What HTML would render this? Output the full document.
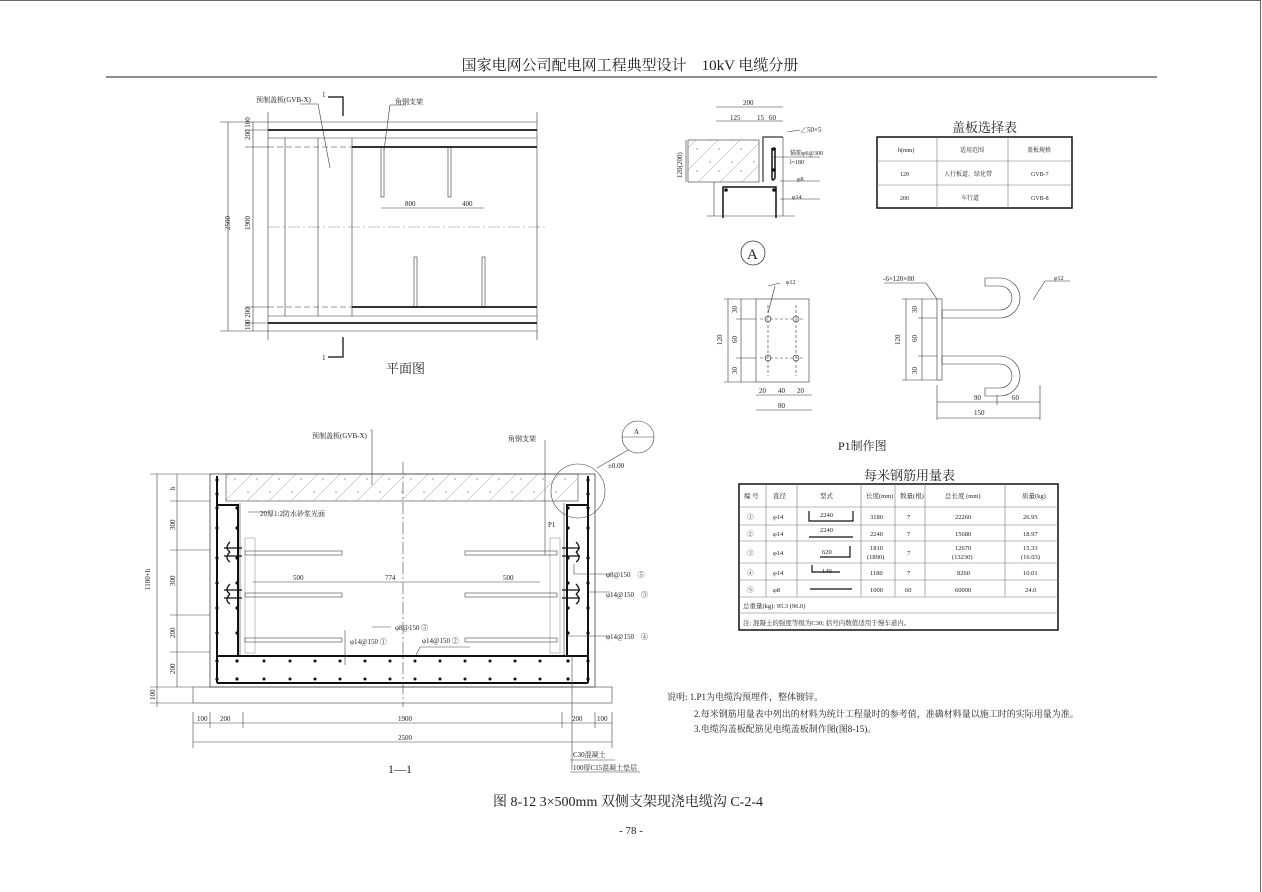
<!DOCTYPE html>
<html><head><meta charset="utf-8"><style>
html,body{margin:0;padding:0;background:#fff}
svg{display:block}
text{font-family:"Liberation Serif","Noto Serif CJK SC","Noto Sans CJK SC",serif;fill:#222}
.s{font-size:7px}
.m{font-size:8px}
</style></head><body>
<svg width="1262" height="892" viewBox="0 0 1262 892" xmlns="http://www.w3.org/2000/svg">
<defs>
<pattern id="h" width="22" height="22" patternUnits="userSpaceOnUse">
<line x1="0" y1="22" x2="22" y2="0" stroke="#999" stroke-width="0.5"/>
<circle cx="6" cy="8" r="0.7" fill="#888"/><circle cx="15" cy="17" r="0.7" fill="#888"/>
</pattern>
</defs>
<line x1="0" y1="0.5" x2="1261" y2="0.5" stroke="#666"/>
<line x1="1260.5" y1="0" x2="1260.5" y2="892" stroke="#666"/>
<text x="630" y="70" font-size="15" text-anchor="middle">国家电网公司配电网工程典型设计　10kV 电缆分册</text>
<line x1="106" y1="77" x2="1157" y2="77" stroke="#222" stroke-width="1"/>

<!-- PLAN -->
<g stroke="#333" fill="none" stroke-width="0.6">
<line x1="268" y1="122" x2="537" y2="122"/>
<line x1="268" y1="130" x2="537" y2="130" stroke-width="2"/>
<line x1="268" y1="138" x2="537" y2="138"/>
<line x1="268" y1="147" x2="352" y2="147" stroke-dasharray="6 3"/>
<line x1="352" y1="147" x2="537" y2="147" stroke-width="2"/>
<line x1="268" y1="227" x2="545" y2="227" stroke-dasharray="12 3 2 3" stroke="#888"/>
<line x1="268" y1="307" x2="352" y2="307" stroke-dasharray="6 3"/>
<line x1="352" y1="307" x2="537" y2="307" stroke-width="2"/>
<line x1="268" y1="316" x2="537" y2="316"/>
<line x1="268" y1="323" x2="537" y2="323" stroke-width="2"/>
<line x1="268" y1="331" x2="537" y2="331"/>
<line x1="268" y1="112" x2="268" y2="340"/>
<line x1="285" y1="138" x2="285" y2="316"/>
<line x1="318" y1="138" x2="318" y2="316"/>
<line x1="352" y1="138" x2="352" y2="316"/>
<line x1="537" y1="112" x2="537" y2="340"/>
<rect x="381" y="147" width="3" height="50"/><rect x="448" y="147" width="3" height="50"/>
<rect x="414" y="257" width="3" height="50"/><rect x="482" y="257" width="3" height="50"/>
<line x1="381" y1="208" x2="484" y2="208"/>
<line x1="228" y1="122" x2="228" y2="331"/>
<line x1="253" y1="122" x2="253" y2="331"/>
<line x1="220" y1="122" x2="268" y2="122"/><line x1="220" y1="331" x2="268" y2="331"/>
<line x1="245" y1="130" x2="268" y2="130"/><line x1="245" y1="147" x2="268" y2="147"/>
<line x1="245" y1="307" x2="268" y2="307"/><line x1="245" y1="323" x2="268" y2="323"/>
<polyline points="328,97 343,97 343,116" stroke-width="1.5"/>
<polyline points="328,357 343,357 343,337" stroke-width="1.5"/>
<polyline points="300,104 318,104 330,168"/>
<polyline points="406,105 390,105 384,150"/>
</g>
<text x="256" y="102" class="s">预制盖板(GVB-X)</text>
<text x="395" y="104" class="s">角钢支架</text>
<text x="322" y="97" class="s">1</text><text x="322" y="360" class="s">1</text>
<text x="405" y="206" class="s">800</text><text x="462" y="206" class="s">400</text>
<text x="230" y="230" class="s" transform="rotate(-90 230 230)">2500</text>
<text x="250" y="230" class="s" transform="rotate(-90 250 230)">1900</text>
<text x="250" y="140" class="s" transform="rotate(-90 250 140)">200 100</text>
<text x="250" y="330" class="s" transform="rotate(-90 250 330)">100 200</text>
<text x="386" y="373" font-size="13">平面图</text>

<!-- SECTION 1-1 -->
<rect x="193" y="687" width="419" height="16" fill="none" stroke="#444" stroke-width="0.6"/>
<rect x="210" y="474" width="385" height="213" fill="none" stroke="#444" stroke-width="0.8"/>
<rect x="226" y="474" width="352" height="27" fill="url(#h)" stroke="#444" stroke-width="0.6"/>
<g stroke="#111" fill="none" stroke-width="2">
<line x1="217" y1="476" x2="217" y2="683"/>
<polyline points="238,655 238,505 217,505"/>
<line x1="588" y1="476" x2="588" y2="683"/>
<polyline points="567,655 567,505 588,505"/>
<line x1="217" y1="683" x2="588" y2="683"/>
<line x1="217" y1="656" x2="588" y2="656"/>
</g>
<g stroke="#444" fill="none" stroke-width="0.6">
<line x1="240" y1="503" x2="240" y2="655"/><line x1="564" y1="503" x2="564" y2="655"/>
<line x1="403" y1="462" x2="403" y2="707" stroke-dasharray="12 3 2 3"/>
<rect x="245" y="538" width="10" height="115" stroke="#999"/>
<rect x="550" y="538" width="10" height="115" stroke="#999"/>
<rect x="245" y="551" width="97" height="4"/><rect x="245" y="593" width="97" height="4"/><rect x="245" y="638" width="97" height="4"/>
<rect x="465" y="551" width="92" height="4"/><rect x="465" y="593" width="92" height="4"/><rect x="465" y="638" width="92" height="4"/>
<path d="M224 548 h18 M224 556 h18 M230 542 q-6 6 0 10 M230 552 q-6 6 0 10 M224 590 h18 M224 598 h18 M230 584 q-6 6 0 10 M230 594 q-6 6 0 10" stroke="#111" stroke-width="1.3"/>
<path d="M562 548 h18 M562 556 h18 M576 542 q6 6 0 10 M576 552 q6 6 0 10 M562 590 h18 M562 598 h18 M576 584 q6 6 0 10 M576 594 q6 6 0 10" stroke="#111" stroke-width="1.3"/>
<line x1="253" y1="582" x2="540" y2="582"/>
<line x1="157" y1="474" x2="157" y2="707"/><line x1="177" y1="474" x2="177" y2="687"/>
<line x1="150" y1="474" x2="210" y2="474"/><line x1="170" y1="501" x2="210" y2="501"/>
<line x1="170" y1="550" x2="210" y2="550"/><line x1="170" y1="615" x2="210" y2="615"/>
<line x1="170" y1="652" x2="210" y2="652"/><line x1="150" y1="687" x2="193" y2="687"/><line x1="150" y1="703" x2="193" y2="703"/>
<line x1="193" y1="723" x2="612" y2="723"/><line x1="193" y1="742" x2="612" y2="742"/>
<line x1="193" y1="712" x2="193" y2="748"/><line x1="210" y1="712" x2="210" y2="728"/><line x1="243" y1="712" x2="243" y2="728"/>
<line x1="562" y1="712" x2="562" y2="728"/><line x1="595" y1="712" x2="595" y2="728"/><line x1="612" y1="712" x2="612" y2="748"/>
<circle cx="578" cy="491" r="27"/>
<circle cx="638" cy="437" r="16"/><line x1="622" y1="437" x2="654" y2="437"/>
<line x1="597" y1="468" x2="628" y2="450"/>
<polyline points="370,430 372,430 372,485"/>
<polyline points="545,440 545,440 545,555"/>
<polyline points="248,512 270,512"/>
<polyline points="574,564 574,574 610,574"/><polyline points="588,592 610,592"/><polyline points="566,636 610,636"/>
<polyline points="345,630 345,665"/><polyline points="372,627 391,627"/>
<polyline points="470,647 420,647 416,655"/>
<line x1="572" y1="655" x2="572" y2="770"/>
<line x1="570" y1="760" x2="615" y2="760" /><line x1="570" y1="772" x2="640" y2="772"/>
</g>
<g fill="#111">
<circle cx="217" cy="480" r="1.6"/><circle cx="217" cy="494" r="1.6"/><circle cx="588" cy="480" r="1.6"/><circle cx="588" cy="494" r="1.6"/>
<circle cx="217" cy="508" r="1.6"/><circle cx="237" cy="508" r="1.6"/><circle cx="588" cy="508" r="1.6"/><circle cx="568" cy="508" r="1.6"/>
<circle cx="217" cy="528" r="1.6"/><circle cx="237" cy="528" r="1.6"/><circle cx="588" cy="528" r="1.6"/><circle cx="568" cy="528" r="1.6"/>
<circle cx="217" cy="558" r="1.6"/><circle cx="237" cy="558" r="1.6"/><circle cx="588" cy="558" r="1.6"/><circle cx="568" cy="558" r="1.6"/>
<circle cx="217" cy="583" r="1.6"/><circle cx="237" cy="583" r="1.6"/><circle cx="588" cy="583" r="1.6"/><circle cx="568" cy="583" r="1.6"/>
<circle cx="217" cy="608" r="1.6"/><circle cx="237" cy="608" r="1.6"/><circle cx="588" cy="608" r="1.6"/><circle cx="568" cy="608" r="1.6"/>
<circle cx="217" cy="633" r="1.6"/><circle cx="237" cy="633" r="1.6"/><circle cx="588" cy="633" r="1.6"/><circle cx="568" cy="633" r="1.6"/>
<circle cx="217" cy="661" r="1.6"/><circle cx="237" cy="661" r="1.6"/><circle cx="588" cy="661" r="1.6"/><circle cx="568" cy="661" r="1.6"/>
<circle cx="217" cy="679" r="1.6"/><circle cx="237" cy="679" r="1.6"/><circle cx="588" cy="679" r="1.6"/><circle cx="568" cy="679" r="1.6"/>
<circle cx="264" cy="661" r="1.5"/><circle cx="290" cy="661" r="1.5"/><circle cx="315" cy="661" r="1.5"/><circle cx="340" cy="661" r="1.5"/><circle cx="365" cy="661" r="1.5"/><circle cx="390" cy="661" r="1.5"/><circle cx="415" cy="661" r="1.5"/><circle cx="440" cy="661" r="1.5"/><circle cx="465" cy="661" r="1.5"/><circle cx="490" cy="661" r="1.5"/><circle cx="515" cy="661" r="1.5"/><circle cx="540" cy="661" r="1.5"/>
<circle cx="264" cy="679" r="1.5"/><circle cx="290" cy="679" r="1.5"/><circle cx="315" cy="679" r="1.5"/><circle cx="340" cy="679" r="1.5"/><circle cx="365" cy="679" r="1.5"/><circle cx="390" cy="679" r="1.5"/><circle cx="415" cy="679" r="1.5"/><circle cx="440" cy="679" r="1.5"/><circle cx="465" cy="679" r="1.5"/><circle cx="490" cy="679" r="1.5"/><circle cx="515" cy="679" r="1.5"/><circle cx="540" cy="679" r="1.5"/>
</g>
<text x="312" y="438" class="s">预制盖板(GVB-X)</text>
<text x="508" y="441" class="s">角钢支架</text>
<text x="634" y="434" class="s">A</text>
<text x="608" y="468" class="s">±0.00</text>
<text x="260" y="516" class="s">20厚1:2防水砂浆光面</text>
<text x="548" y="527" class="s">P1</text>
<text x="293" y="580" class="s">500</text><text x="385" y="580" class="s">774</text><text x="503" y="580" class="s">500</text>
<text x="395" y="630" class="s">φ8@150 ⑤</text>
<text x="350" y="644" class="s">φ14@150 ①</text>
<text x="422" y="643" class="s">φ14@150 ②</text>
<text x="606" y="577" class="s">φ8@150　⑤</text>
<text x="606" y="597" class="s">φ14@150　③</text>
<text x="606" y="639" class="s">φ14@150　④</text>
<text x="197" y="721" class="s">100</text><text x="220" y="721" class="s">200</text><text x="398" y="721" class="s">1900</text>
<text x="572" y="721" class="s">200</text><text x="597" y="721" class="s">100</text>
<text x="398" y="740" class="s">2500</text>
<text x="573" y="757" class="s">C30混凝土</text>
<text x="573" y="770" class="s">100厚C15混凝土垫层</text>
<text x="388" y="773" font-size="12">1—1</text>
<text x="150" y="590" class="s" transform="rotate(-90 150 590)">1100+h</text>
<text x="175" y="490" class="s" transform="rotate(-90 175 490)">h</text>
<text x="175" y="530" class="s" transform="rotate(-90 175 530)">300</text>
<text x="175" y="586" class="s" transform="rotate(-90 175 586)">300</text>
<text x="175" y="638" class="s" transform="rotate(-90 175 638)">200</text>
<text x="175" y="674" class="s" transform="rotate(-90 175 674)">200</text>
<text x="155" y="700" class="s" transform="rotate(-90 155 700)">100</text>

<!-- DETAIL A -->
<g stroke="#333" fill="none" stroke-width="0.6">
<line x1="716" y1="107" x2="783" y2="107"/><line x1="716" y1="121" x2="783" y2="121"/>
<rect x="688" y="140" width="71" height="42" fill="url(#h)"/>
<polyline points="763,182 763,137 783,137" stroke-width="1.2"/>
<path d="M772 148 v30 q0 4 3 0 v-30" stroke="#111" stroke-width="1.5"/>
<polyline points="723,218 723,187 776,187 776,218" stroke="#111" stroke-width="1.5"/>
<line x1="707" y1="216" x2="795" y2="216"/>
<line x1="714" y1="182" x2="714" y2="216"/><line x1="783" y1="137" x2="783" y2="216"/>
<line x1="686" y1="140" x2="686" y2="182"/>
<line x1="773" y1="157" x2="820" y2="157"/><line x1="780" y1="181" x2="820" y2="181"/>
<line x1="780" y1="199" x2="820" y2="199"/>
<line x1="787" y1="132" x2="800" y2="130"/>
<circle cx="753" cy="253" r="12" stroke-width="0.8"/>
</g>
<g fill="#111"><circle cx="774" cy="149" r="1.8"/><circle cx="774" cy="170" r="1.8"/><circle cx="726" cy="190" r="1.8"/><circle cx="774" cy="190" r="1.8"/></g>
<text x="743" y="105" class="s">200</text><text x="730" y="120" class="s">125</text><text x="757" y="120" class="s">15</text><text x="769" y="120" class="s">60</text>
<text x="800" y="132" class="s">∠50×5</text>
<text x="790" y="155" font-size="6">锚筋φ6@300</text><text x="790" y="164" font-size="6">l=180</text>
<text x="797" y="181" font-size="6">φ8</text><text x="792" y="199" font-size="6">φ14</text>
<text x="682" y="178" class="s" transform="rotate(-90 682 178)">120(200)</text>
<text x="747" y="259" font-size="15">A</text>

<!-- cover table -->
<text x="952" y="132" font-size="13">盖板选择表</text>
<rect x="877" y="137" width="195" height="71" fill="none" stroke="#111" stroke-width="1.5"/>
<g stroke="#777" stroke-width="0.6"><line x1="877" y1="161" x2="1072" y2="161"/><line x1="877" y1="185" x2="1072" y2="185"/>
<line x1="937" y1="137" x2="937" y2="208"/><line x1="1008" y1="137" x2="1008" y2="208"/></g>
<text x="898" y="152" font-size="6">h(mm)</text><text x="960" y="152" font-size="6">适用范围</text><text x="1027" y="152" font-size="6">盖板规格</text>
<text x="900" y="176" font-size="6">120</text><text x="944" y="176" font-size="6">人行板道、绿化带</text><text x="1031" y="176" font-size="6">GVB-7</text>
<text x="900" y="200" font-size="6">200</text><text x="961" y="200" font-size="6">车行道</text><text x="1031" y="200" font-size="6">GVB-8</text>

<!-- P1 -->
<g stroke="#333" fill="none" stroke-width="0.6">
<rect x="756" y="299" width="53" height="83"/>
<circle cx="768" cy="319" r="3"/><circle cx="796" cy="319" r="3"/><circle cx="768" cy="358" r="3"/><circle cx="796" cy="358" r="3"/>
<line x1="760" y1="319" x2="804" y2="319" stroke-dasharray="3 2"/><line x1="760" y1="358" x2="804" y2="358" stroke-dasharray="3 2"/>
<line x1="768" y1="305" x2="768" y2="376" stroke-dasharray="3 2"/><line x1="796" y1="305" x2="796" y2="376" stroke-dasharray="3 2"/>
<line x1="728" y1="299" x2="728" y2="382"/><line x1="741" y1="299" x2="741" y2="382"/>
<line x1="724" y1="299" x2="756" y2="299"/><line x1="736" y1="319" x2="756" y2="319"/><line x1="736" y1="358" x2="756" y2="358"/><line x1="724" y1="382" x2="756" y2="382"/>
<line x1="756" y1="395" x2="812" y2="395"/><line x1="756" y1="410" x2="812" y2="410"/>
<line x1="768" y1="286" x2="780" y2="283"/><line x1="768" y1="313" x2="775" y2="286"/>
<rect x="937" y="299" width="5" height="81"/>
<path d="M942 318 H1000 A20 20 0 0 0 1000 278 H985 V286 H1000 A12 12 0 0 1 1000 310 H942 Z"/>
<path d="M942 356 H1000 A20 20 0 0 1 1000 396 H985 V388 H1000 A12 12 0 0 0 1000 364 H942 Z"/>
<line x1="906" y1="299" x2="906" y2="380"/><line x1="922" y1="299" x2="922" y2="380"/>
<line x1="902" y1="299" x2="937" y2="299"/><line x1="918" y1="318" x2="937" y2="318"/><line x1="918" y1="356" x2="937" y2="356"/><line x1="902" y1="380" x2="937" y2="380"/>
<line x1="937" y1="402" x2="1040" y2="402"/><line x1="937" y1="418" x2="1040" y2="418"/>
<line x1="937" y1="385" x2="937" y2="420"/><line x1="1040" y1="385" x2="1040" y2="420"/><line x1="997" y1="395" x2="997" y2="405"/>
<line x1="884" y1="283" x2="926" y2="283"/><line x1="926" y1="283" x2="937" y2="299"/>
<line x1="1045" y1="281" x2="1070" y2="281"/><line x1="1045" y1="281" x2="1033" y2="300"/>
</g>
<text x="786" y="284" font-size="6">φ12</text>
<text x="1054" y="280" font-size="6">φ12</text>
<text x="883" y="281" font-size="7">-6×120×80</text>
<text x="722" y="345" class="s" transform="rotate(-90 722 345)">120</text>
<text x="737" y="313" class="s" transform="rotate(-90 737 313)">30</text>
<text x="737" y="343" class="s" transform="rotate(-90 737 343)">60</text>
<text x="737" y="374" class="s" transform="rotate(-90 737 374)">30</text>
<text x="900" y="345" class="s" transform="rotate(-90 900 345)">120</text>
<text x="917" y="313" class="s" transform="rotate(-90 917 313)">30</text>
<text x="917" y="342" class="s" transform="rotate(-90 917 342)">60</text>
<text x="917" y="374" class="s" transform="rotate(-90 917 374)">30</text>
<text x="759" y="393" class="s">20</text><text x="778" y="393" class="s">40</text><text x="797" y="393" class="s">20</text>
<text x="778" y="408" class="s">80</text>
<text x="974" y="400" class="s">90</text><text x="1012" y="400" class="s">60</text><text x="974" y="415" class="s">150</text>
<text x="838" y="450" font-size="12">P1制作图</text>

<!-- rebar table -->
<text x="864" y="480" font-size="13">每米钢筋用量表</text>
<rect x="739" y="484" width="319" height="146" fill="none" stroke="#111" stroke-width="1.5"/>
<g stroke="#777" stroke-width="0.6">
<line x1="739" y1="507" x2="1058" y2="507"/><line x1="739" y1="525" x2="1058" y2="525"/><line x1="739" y1="541" x2="1058" y2="541"/>
<line x1="739" y1="563" x2="1058" y2="563"/><line x1="739" y1="580" x2="1058" y2="580"/><line x1="739" y1="597" x2="1058" y2="597"/><line x1="739" y1="613" x2="1058" y2="613"/>
<line x1="766" y1="484" x2="766" y2="597"/><line x1="797" y1="484" x2="797" y2="597"/><line x1="861" y1="484" x2="861" y2="597"/>
<line x1="895" y1="484" x2="895" y2="597"/><line x1="925" y1="484" x2="925" y2="597"/><line x1="1005" y1="484" x2="1005" y2="597"/>
</g>
<g stroke="#111" fill="none" stroke-width="1.2">
<polyline points="809,511 809,521 853,521 853,511"/>
<line x1="809" y1="537" x2="853" y2="537"/>
<polyline points="820,557 850,557 850,546"/>
<polyline points="812,565 812,572 840,572"/>
<line x1="810" y1="589" x2="852" y2="589"/>
</g>
<g font-size="6.5">
<text x="744" y="498">编 号</text><text x="773" y="498">直径</text><text x="820" y="498">型式</text><text x="866" y="498">长度(mm)</text><text x="900" y="498">数量(根)</text><text x="945" y="498">总长度 (mm)</text><text x="1022" y="498">质量(kg)</text>
<text x="747" y="519">①</text><text x="773" y="519">φ14</text><text x="820" y="517">2240</text><text x="870" y="519">3180</text><text x="907" y="519">7</text><text x="955" y="519">22260</text><text x="1023" y="519">26.95</text>
<text x="747" y="536">②</text><text x="773" y="536">φ14</text><text x="820" y="532">2240</text><text x="870" y="536">2240</text><text x="907" y="536">7</text><text x="955" y="536">15680</text><text x="1023" y="536">18.97</text>
<text x="747" y="555">③</text><text x="773" y="555">φ14</text><text x="822" y="554">620</text><text x="870" y="550">1810</text><text x="867" y="559">(1890)</text><text x="907" y="555">7</text><text x="955" y="550">12670</text><text x="952" y="559">(13230)</text><text x="1023" y="550">15.33</text><text x="1021" y="559">(16.03)</text>
<text x="747" y="575">④</text><text x="773" y="575">φ14</text><text x="822" y="573">140</text><text x="870" y="575">1180</text><text x="907" y="575">7</text><text x="957" y="575">8260</text><text x="1023" y="575">10.01</text>
<text x="747" y="592">⑤</text><text x="773" y="592">φ8</text><text x="870" y="592">1000</text><text x="905" y="592">60</text><text x="955" y="592">60000</text><text x="1025" y="592">24.0</text>
<text x="743" y="608">总重量(kg): 95.3 (96.0)</text>
<text x="743" y="625">注: 混凝土的强度等级为C30; 括号内数值适用于慢车道内。</text>
</g>

<!-- notes -->
<g font-size="9">
<text x="667" y="700">说明: 1.P1为电缆沟预埋件，整体镀锌。</text>
<text x="694" y="717">2.每米钢筋用量表中列出的材料为统计工程量时的参考值，准确材料量以施工时的实际用量为准。</text>
<text x="694" y="732">3.电缆沟盖板配筋见电缆盖板制作图(图8-15)。</text>
</g>
<text x="628" y="806" font-size="14" text-anchor="middle">图 8-12 3×500mm 双侧支架现浇电缆沟 C-2-4</text>
<text x="631" y="834" font-size="11" text-anchor="middle">- 78 -</text>
</svg>
</body></html>
